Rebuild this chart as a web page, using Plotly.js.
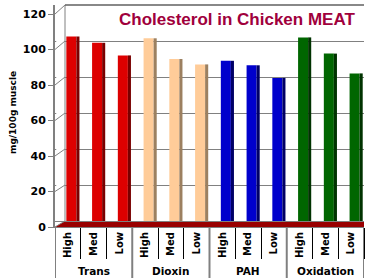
<!DOCTYPE html>
<html>
<head>
<meta charset="utf-8">
<script src="https://cdn.plot.ly/plotly-3.0.1.min.js"></script>
<style>html,body{margin:0;padding:0;background:#fff;}#chart{width:369px;height:278px;}</style>
</head>
<body>
<div id="chart"></div>
<script>
// ---- data ----
const groups = ['Trans','Trans','Trans','Dioxin','Dioxin','Dioxin','PAH','PAH','PAH','Oxidation','Oxidation','Oxidation'];
const levels = ['High','Med','Low','High','Med','Low','High','Med','Low','High','Med','Low'];
const cholesterol = [102.5, 99, 92, 101.5, 90, 87, 89, 86.5, 79.5, 102, 93, 82];
const yTicks = [0, 20, 40, 60, 80, 100, 120];
const groupFace = {Trans:'#DD0000', Dioxin:'#FFCC99', PAH:'#0000CC', Oxidation:'#006600'};
const groupSide = {Trans:'#7A0000', Dioxin:'#9C8060', PAH:'#000066', Oxidation:'#003300'};

// ---- categories (unique ids, shown with the level text) ----
const cats = groups.map((g, i) => g + ' ' + levels[i]);
const groupNames = groups.filter((g, i) => groups.indexOf(g) === i);

// ---- geometry of the pseudo-3D frame ----
const backRange = [-3.33, 120];
const frontRange = [0, 125.07];
const wallX = 10/309;
const bottomPaper = -51/222;

const face = {
  type:'bar', x:cats, y:cholesterol,
  marker:{color: groups.map(g => groupFace[g]), line:{width:0}},
  width:0.39, offset:-0.06, hoverinfo:'skip', showlegend:false
};
const side = {
  type:'bar', x:cats, y:cholesterol,
  marker:{color: groups.map(g => groupSide[g]), line:{width:0}},
  width:0.12, offset:0.33, hoverinfo:'skip', showlegend:false
};
const dummy = {type:'scatter', x:cats, y:cholesterol.map(()=>null), yaxis:'y2', mode:'markers', showlegend:false, hoverinfo:'skip'};

const bold = {family:'DejaVu Sans', weight:'bold', color:'#000'};

const shapes = [
  // floor
  {type:'path', xref:'paper', yref:'paper', layer:'below',
   path:`M0,0 L${wallX},${6/222} L1,${6/222} L1,0 Z`, fillcolor:'#990000', line:{width:0}},
  // hide grid between front axis and back wall
  {type:'rect', xref:'paper', yref:'paper', layer:'above', x0:0.004, x1:wallX, y0:6/222, y1:1,
   fillcolor:'#fff', line:{width:0}},
  // back wall edges
  {type:'line', xref:'paper', yref:'paper', layer:'above', x0:wallX, x1:wallX, y0:6/222, y1:1, line:{color:'#808080', width:1}},
  {type:'line', xref:'paper', yref:'paper', layer:'above', x0:wallX, x1:1, y0:1, y1:1, line:{color:'#606060', width:1.5}}
];
yTicks.forEach(v => {
  shapes.push({type:'line', xref:'paper', yref:'paper', layer:'above',
    x0:0, y0:(v-frontRange[0])/(frontRange[1]-frontRange[0]),
    x1:wallX, y1:(v-backRange[0])/(backRange[1]-backRange[0]),
    line:{color:'#808080', width:1}});
});
// group dividers (at group boundaries and the two ends)
const bounds = [-0.5];
groups.forEach((g, i) => { if (i < groups.length-1 && groups[i+1] !== g) bounds.push(i+0.5); });
bounds.push(groups.length-0.5);
bounds.forEach(b => {
  shapes.push({type:'line', xref:'x', yref:'paper', layer:'above', x0:b, x1:b, y0:0, y1:bottomPaper,
    line:{color:'#808080', width:2}});
});

const annotations = [
  {text:'Cholesterol in Chicken MEAT', xref:'paper', yref:'paper', x:(237-55)/309, y:(227-20)/222,
   xanchor:'center', yanchor:'middle', showarrow:false,
   font:{family:'Liberation Sans, Arial', size:17, weight:'bold', color:'#A0003C'}},
  {text:'mg/100g muscle', xref:'paper', yref:'paper', x:(13-55)/309, y:(227-113)/222,
   xanchor:'center', yanchor:'middle', showarrow:false, textangle:-90,
   font:Object.assign({size:9}, bold)}
];
groupNames.forEach(g => {
  const idx = groups.map((h, i) => h === g ? i : -1).filter(i => i >= 0);
  const mid = (idx[0] + idx[idx.length-1]) / 2;
  annotations.push({text:g, xref:'x', yref:'paper', x:mid, y:(227-271)/222,
    xanchor:'center', yanchor:'middle', showarrow:false, font:Object.assign({size:10.5}, bold)});
});

const layout = {
  width:369, height:278,
  margin:{l:55, r:5, t:5, b:51},
  paper_bgcolor:'#fff', plot_bgcolor:'#fff',
  barmode:'overlay', showlegend:false,
  xaxis:{type:'category', categoryorder:'array', categoryarray:cats, range:[-0.5, cats.length-0.5],
    tickvals:cats, ticktext:levels,
    showline:true, linecolor:'#808080', linewidth:1,
    ticks:'outside', tickson:'boundaries', ticklen:31, tickcolor:'#000', tickwidth:1, tickangle:-90,
    tickfont:Object.assign({size:10}, bold),
    showgrid:false, zeroline:false},
  yaxis:{range:backRange, tickvals:yTicks, showticklabels:false, ticks:'',
    showgrid:true, gridcolor:'#808080', gridwidth:1, zeroline:false, showline:false},
  yaxis2:{overlaying:'y', side:'left', anchor:'x', range:frontRange, tickvals:yTicks,
    ticks:'outside', ticklen:5, tickcolor:'#808080', showline:true, linecolor:'#808080', linewidth:2,
    showgrid:false, zeroline:false, tickfont:Object.assign({size:11}, bold)},
  shapes:shapes,
  annotations:annotations
};

Plotly.newPlot('chart', [face, side, dummy], layout, {staticPlot:true, displayModeBar:false});
</script>
</body>
</html>
